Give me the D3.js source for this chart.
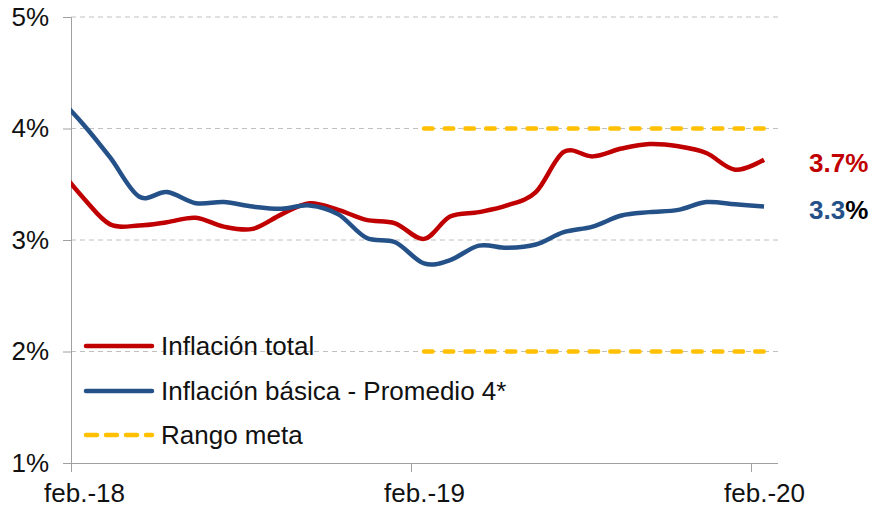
<!DOCTYPE html>
<html>
<head>
<meta charset="utf-8">
<script src="https://cdn.jsdelivr.net/npm/d3@7"></script>
<style>
  html, body { margin: 0; padding: 0; background: #fff; }
  svg { display: block; font-family: "Liberation Sans", Arial, sans-serif; }
</style>
</head>
<body>
<svg id="chart" width="875" height="512"></svg>
<script>
// ---- Data ----
const months = ["2018-01","2018-02","2018-03","2018-04","2018-05","2018-06","2018-07","2018-08","2018-09","2018-10","2018-11","2018-12",
                "2019-01","2019-02","2019-03","2019-04","2019-05","2019-06","2019-07","2019-08","2019-09","2019-10","2019-11","2019-12",
                "2020-01","2020-02"];
const inflacionTotal = [3.68,3.37,3.14,3.13,3.16,3.20,3.12,3.10,3.23,3.33,3.27,3.18,
                        3.15,3.01,3.21,3.25,3.31,3.43,3.79,3.75,3.82,3.86,3.84,3.78,
                        3.63,3.72];
const inflacionBasica = [4.31,4.03,3.74,3.39,3.43,3.33,3.34,3.30,3.28,3.31,3.23,3.02,
                         2.98,2.79,2.82,2.95,2.93,2.96,3.07,3.12,3.22,3.25,3.27,3.34,
                         3.32,3.30];
const rangoMetaMonths = ["2019-02","2020-02"];
const rangoMetaLow = [2, 2];
const rangoMetaHigh = [4, 4];
const yTicks = [1,2,3,4,5];
const xTickYears = ["2018","2019","2020"];
const xTickLabels = ["feb.-18","feb.-19","feb.-20"];
const seriesNames = ["Inflación total","Inflación básica - Promedio 4*","Rango meta"];
const endLabels = ["3.7","3.3"];

(function () {
// ---- Style ----
const RED = "#C00000", BLUE = "#255189", GOLD = "#FFC000", GRID = "#C0C0C0", AXIS = "#A0A0A0", TEXT = "#111";
const FS = 26;

const svg = d3.select("#chart");
const parseMid = s => new Date(+s.slice(0,4), +s.slice(5,7)-1, 15);
const pL = 71, pR = 778, pT = 17, pB = 463;

const x = d3.scaleTime()
  .domain([new Date(2018,1,1), new Date(2020,2,1)])
  .range([pL, pR]);
const y = d3.scaleLinear().domain([1,5]).range([pB, pT]);

// clip
svg.append("defs").append("clipPath").attr("id","plot")
  .append("rect").attr("x", pL).attr("y", 0).attr("width", pR-pL).attr("height", 512);

// gridlines
svg.append("g").selectAll("line").data(yTicks.filter(d => d > 1)).join("line")
  .attr("x1", pL).attr("x2", pR)
  .attr("y1", d => y(d)).attr("y2", d => y(d))
  .attr("stroke", GRID).attr("stroke-width", 1).attr("stroke-dasharray", "5,4");

// y axis
const yAxis = d3.axisLeft(y).tickValues(yTicks).tickSize(8).tickPadding(14).tickFormat(d => d + "%");
const gy = svg.append("g").attr("transform", `translate(${pL},0)`).call(yAxis);
gy.select(".domain").attr("stroke", AXIS);
gy.selectAll(".tick line").attr("stroke", AXIS);
gy.selectAll(".tick text").attr("font-size", FS).attr("fill", TEXT)
  .attr("font-family", "'Liberation Sans', Arial, sans-serif");

// x axis
const tickDates = xTickYears.map(yr => new Date(+yr, 1, 1));
const xAxis = d3.axisBottom(x).tickValues(tickDates).tickSize(9).tickSizeOuter(0).tickPadding(12)
  .tickFormat((d,i) => xTickLabels[i]);
const gx = svg.append("g").attr("transform", `translate(0,${pB})`).call(xAxis);
gx.select(".domain").attr("stroke", AXIS).attr("d", `M${pL},0.5H${pR}`);
gx.selectAll(".tick line").attr("stroke", AXIS);
gx.selectAll(".tick text").attr("font-size", FS).attr("fill", TEXT)
  .attr("font-family", "'Liberation Sans', Arial, sans-serif")
  .attr("dy", "0.71em")
  .attr("x", d => x(new Date(d.getFullYear(), 1, 15)) - x(d));

// lines
const line = d3.line().x(d => x(d.date)).y(d => y(d.v)).curve(d3.curveCardinal.tension(0));
const plot = svg.append("g").attr("clip-path", "url(#plot)");

const mk = arr => months.map((m,i) => ({date: parseMid(m), v: arr[i]}));

// rango meta
[rangoMetaLow, rangoMetaHigh].forEach(arr => {
  plot.append("path")
    .datum(rangoMetaMonths.map((m,i) => ({date: parseMid(m), v: arr[i]})))
    .attr("d", d3.line().x(d => x(d.date)).y(d => y(d.v)))
    .attr("fill","none").attr("stroke", GOLD).attr("stroke-width", 4.5)
    .attr("stroke-linecap","round").attr("stroke-dasharray","8.5,12.2");
});

plot.append("path").datum(mk(inflacionTotal)).attr("d", line)
  .attr("fill","none").attr("stroke", RED).attr("stroke-width", 4.5).attr("stroke-linejoin","round");
plot.append("path").datum(mk(inflacionBasica)).attr("d", line)
  .attr("fill","none").attr("stroke", BLUE).attr("stroke-width", 4.5).attr("stroke-linejoin","round");

// end labels
const lastT = inflacionTotal[inflacionTotal.length-1];
const lastB = inflacionBasica[inflacionBasica.length-1];
svg.append("text").attr("x", 809).attr("y", y(lastT) + 3).attr("dy", "0.35em")
  .attr("font-size", FS).attr("font-weight", "bold").attr("fill", RED)
  .text(endLabels[0] + "%");
const t2 = svg.append("text").attr("x", 809).attr("y", y(lastB) + 3).attr("dy", "0.35em")
  .attr("font-size", FS).attr("font-weight", "bold");
t2.append("tspan").attr("fill", BLUE).text(endLabels[1]);
t2.append("tspan").attr("fill", "#000").text("%");

// legend
const legendY = [346, 391, 435];
const legendStyle = [
  {c: RED, dash: null},
  {c: BLUE, dash: null},
  {c: GOLD, dash: "11,9"}
];
const lg = svg.append("g");
seriesNames.forEach((name, i) => {
  const l = lg.append("line").attr("x1", 86).attr("x2", 152)
    .attr("y1", legendY[i]).attr("y2", legendY[i])
    .attr("stroke", legendStyle[i].c).attr("stroke-width", 4.5).attr("stroke-linecap", "round");
  if (legendStyle[i].dash) l.attr("stroke-dasharray", legendStyle[i].dash);
  lg.append("text").attr("x", 161).attr("y", legendY[i]).attr("dy", "0.36em")
    .attr("font-size", FS).attr("fill", TEXT).text(name);
});
})();
</script>
</body>
</html>
